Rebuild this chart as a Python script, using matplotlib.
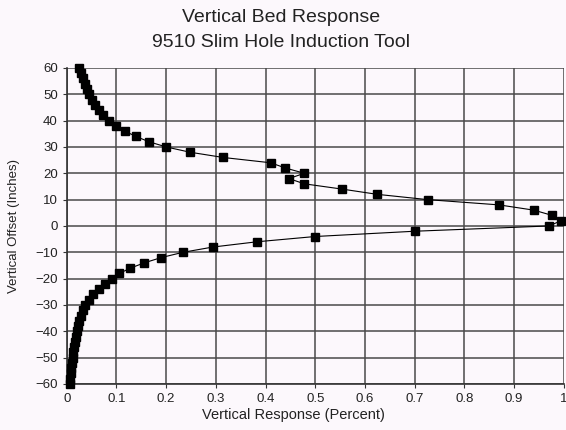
import matplotlib
matplotlib.use("Agg")
import matplotlib.pyplot as plt
from matplotlib.ticker import FuncFormatter

# vertical offset (inches), from bottom to top
offset = [-60, -58, -56, -54, -52, -50, -48, -46, -44, -42, -40, -38, -36, -34,
          -32, -30, -28, -26, -24, -22, -20, -18, -16, -14, -12, -10, -8, -6,
          -4, -2, 0, 2, 4, 6, 8, 10, 12, 14, 16, 18, 20, 22, 24, 26, 28, 30,
          32, 34, 36, 38, 40, 42, 44, 46, 48, 50, 52, 54, 56, 58, 60]

# vertical response (percent, as fraction)
response = [0.006, 0.007, 0.008, 0.009, 0.010, 0.012, 0.013, 0.014, 0.016, 0.018,
            0.020, 0.022, 0.025, 0.028, 0.032, 0.037, 0.044, 0.053, 0.064, 0.077,
            0.090, 0.106, 0.128, 0.156, 0.19, 0.234, 0.294, 0.383,
            0.50, 0.70, 0.97, 0.995, 0.977, 0.94, 0.87, 0.726, 0.625, 0.554,
            0.478, 0.447, 0.478, 0.44, 0.41, 0.315, 0.248, 0.20,
            0.165, 0.139, 0.117, 0.099, 0.085, 0.073, 0.064, 0.056, 0.050, 0.045,
            0.041, 0.037, 0.033, 0.029, 0.024]

plt.rcParams['font.family'] = ['Liberation Sans', 'DejaVu Sans']

fig = plt.figure(figsize=(5.66, 4.30), dpi=100, facecolor='#fcf8fc')
ax = fig.add_axes([0.118, 0.107, 0.878, 0.735])
ax.set_facecolor('#fcf8fc')

ax.plot(response, offset, color='black', lw=0.8, marker='s', markersize=5.5,
        markerfacecolor='black', markeredgecolor='black', clip_on=False, zorder=3)

ax.set_xlim(0, 1)
ax.set_ylim(-60, 60)
ax.set_xticks([i / 10 for i in range(11)])
ax.set_yticks(range(-60, 61, 10))
ax.xaxis.set_major_formatter(FuncFormatter(lambda v, p: '%g' % round(v, 1)))
ax.grid(True, color='#4a4a4a', lw=1.1)
ax.tick_params(labelsize=9.5, length=3, color='#333333', labelcolor='#222222')

for s in ['top', 'right']:
    ax.spines[s].set_visible(False)
for s in ['left', 'bottom']:
    ax.spines[s].set_color('#333333')
    ax.spines[s].set_linewidth(1.2)

ax.set_xlabel('Vertical Response (Percent)', fontsize=10.5, color='#222222')
ax.xaxis.set_label_coords(0.456, -0.075)
ax.set_ylabel('Vertical Offset (Inches)', fontsize=9.5, color='#222222')
ax.yaxis.set_label_coords(-0.095, 0.5)
fig.text(0.497, 0.96, 'Vertical Bed Response', ha='center', va='center',
         fontsize=14, color='#222222')
fig.text(0.497, 0.902, '9510 Slim Hole Induction Tool', ha='center', va='center',
         fontsize=14, color='#222222')

fig.savefig('out.png', dpi=100, facecolor=fig.get_facecolor())
